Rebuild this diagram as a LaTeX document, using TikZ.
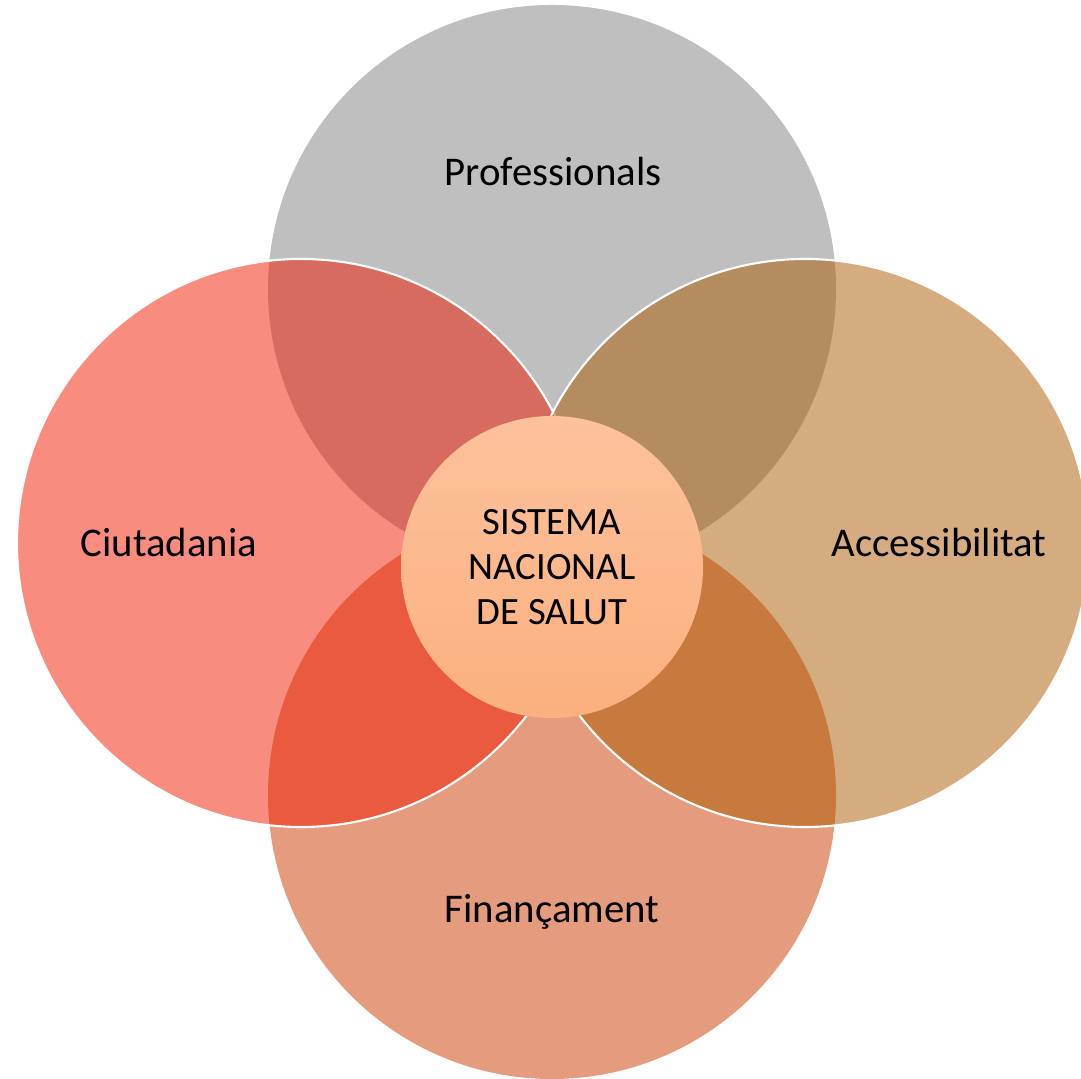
\documentclass[tikz,border=0pt]{standalone}
\usepackage{fontspec}
\setmainfont{Carlito}
\usepackage{tikz}
\usetikzlibrary{
  positioning,
  calc,
  }

\definecolor{grisc}{RGB}{191,191,191}
\definecolor{finc}{RGB}{229,156,126}
\definecolor{ciutc}{RGB}{239,25,0}
\definecolor{accc}{RGB}{172,90,0}
\definecolor{centredalt}{RGB}{253,193,156}
\definecolor{centrebaix}{RGB}{251,176,126}

\begin{document}
\begin{tikzpicture}[
    every node/.style={inner sep=0pt},
    cercle/.style={circle, minimum size=5.68cm},
    transp/.style={cercle, fill opacity=0.5, draw=white, draw opacity=1, line width=0.6pt},
    etiqueta/.style={font=\fontsize{11.6}{13}\selectfont, align=center},
    ]
                    \useasboundingbox (0,0) rectangle (10.81,10.78);
                    \node[cercle, fill=grisc] (prof) at (5.52,7.89) {};
                    \node[cercle, fill=finc] (fin) at (5.52,2.83) {};
                    \node[transp, fill=ciutc] (ciut) at (3.01,5.35) {};
                    \node[transp, fill=accc] (acc) at (8.05,5.35) {};
                    \node[circle, minimum size=3.02cm, top color=centredalt, bottom color=centrebaix,
                          align=center, font=\fontsize{11}{12.8}\selectfont] (sns) at (5.52,5.11) {SISTEMA\\NACIONAL\\DE SALUT};
                    % etiquetes
                    \node[etiqueta] (profT) at (5.53,9.06) {Professionals};
                    \node[etiqueta] (ciutT) at (1.69,5.35) {Ciutadania};
                    \node[etiqueta] (accT) at (9.39,5.35) {Accessibilitat};
                    \node[etiqueta] (finT) at (5.52,1.66) {Finançament};
                \end{tikzpicture}
\end{document}
